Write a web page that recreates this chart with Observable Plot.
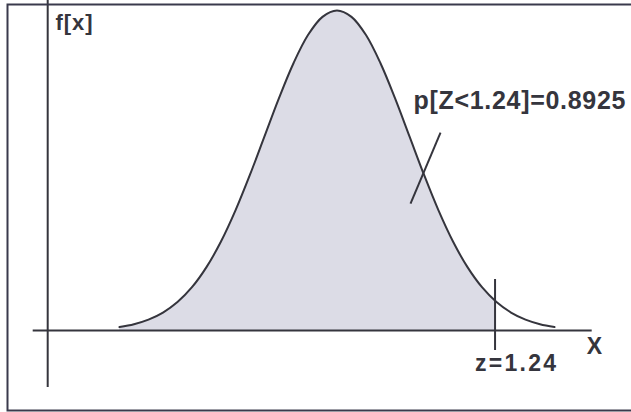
<!DOCTYPE html>
<html>
<head>
<meta charset="utf-8">
<script src="https://cdn.jsdelivr.net/npm/d3@7"></script>
<script src="https://cdn.jsdelivr.net/npm/@observablehq/plot@0.6"></script>
<style>
  html, body { margin: 0; padding: 0; background: #fff; overflow: hidden; }
  #chart svg { display: block; }
</style>
</head>
<body>
<div id="chart"></div>
<script>
const zValues = [-3.0,-2.8,-2.6,-2.4,-2.2,-2.0,-1.8,-1.6,-1.4,-1.2,-1.0,-0.8,-0.6,-0.4,-0.2,0.0,
                 0.2,0.4,0.6,0.8,1.0,1.2,1.4,1.6,1.8,2.0,2.2,2.4,2.6,2.8,3.0];
const densities = [0.0044,0.0079,0.0136,0.0224,0.0355,0.0540,0.0790,0.1109,0.1497,0.1942,0.2420,0.2897,0.3332,0.3683,0.3910,0.3989,
                   0.3910,0.3683,0.3332,0.2897,0.2420,0.1942,0.1497,0.1109,0.0790,0.0540,0.0355,0.0224,0.0136,0.0079,0.0044];

// Cut-off marker as drawn (position on the curve's axis) and its curve height
const cutZ = 2.18;
const cutDensity = 0.0369;

// Labels
const cutLabel = "z=1.24";
const probLabel = "p[Z<1.24]=0.8925";
const yAxisLabel = "f[x]";
const xAxisLabel = "X";

// Axis line extents (in data units)
const xAxisStart = -4.19, xAxisEnd = 3.52;
const yAxisAt = -3.99, yAxisBottom = -0.0711, yAxisTop = 0.4114;
const cutLineBottom = -0.0249, cutLineTop = 0.0636;

// Annotation pointer (from label towards the shaded area)
const pointer = [{x1: 1.428, y1: 0.2468, x2: 1.014, y2: 0.1583}];

// Label anchors (data units)
const labels = [
  {x: -3.883, y: 0.384, text: yAxisLabel, anchor: "start", size: 22, weight: "bold"},
  {x: 1.055, y: 0.2867, text: probLabel, anchor: "start", size: 25, weight: "bold"},
  {x: 2.462, y: -0.0411, text: cutLabel, anchor: "middle", size: 23, weight: "bold"},
  {x: 3.552, y: -0.0199, text: xAxisLabel, anchor: "middle", size: 23, weight: "bold"}
];

const curve = zValues.map((z, i) => ({z, d: densities[i]}));
const shaded = curve.filter(p => p.z <= cutZ).concat([{z: cutZ, d: cutDensity}]);

const ink = "#35353d";

const plot = Plot.plot({
  width: 631,
  height: 412,
  marginTop: 0, marginRight: 0, marginBottom: 0, marginLeft: 0,
  x: {domain: [-4.641, 4.062], range: [0, 631], axis: null},
  y: {domain: [-0.1022, 0.4114], range: [412, 0], axis: null},
  style: {background: "#fff"},
  marks: [
    Plot.areaY(shaded, {x: "z", y: "d", fill: "#dcdce6", curve: "catmull-rom"}),
    Plot.ruleY([0], {x1: xAxisStart, x2: xAxisEnd, stroke: ink, strokeWidth: 2}),
    Plot.ruleX([yAxisAt], {y1: yAxisBottom, y2: yAxisTop, stroke: ink, strokeWidth: 2}),
    Plot.lineY(curve, {x: "z", y: "d", stroke: ink, strokeWidth: 2, curve: "catmull-rom"}),
    Plot.ruleX([cutZ], {y1: cutLineBottom, y2: cutLineTop, stroke: ink, strokeWidth: 2}),
    Plot.link(pointer, {x1: "x1", y1: "y1", x2: "x2", y2: "y2", stroke: ink, strokeWidth: 2}),
    ...labels.map(l => Plot.text([l], {
      x: "x", y: "y", text: "text", textAnchor: l.anchor,
      fontSize: l.size, fontWeight: l.weight,
      fontFamily: "'Liberation Sans', Arial, sans-serif",
      fill: ink
    })),
    Plot.frame({stroke: "#3a3a4c", strokeWidth: 2, insetLeft: 7, insetTop: 4, insetBottom: 2, insetRight: -12})
  ]
});

// stretch labels to the width they have in the picture
d3.select(plot).selectAll("text").each(function() {
  const t = this.textContent;
  if (t === cutLabel) d3.select(this).attr("textLength", 81).attr("lengthAdjust", "spacing");
  if (t === probLabel) d3.select(this).attr("textLength", 212).attr("lengthAdjust", "spacing");
  if (t === yAxisLabel) d3.select(this).attr("textLength", 37).attr("lengthAdjust", "spacing");
});

document.getElementById("chart").appendChild(plot);
</script>
</body>
</html>
